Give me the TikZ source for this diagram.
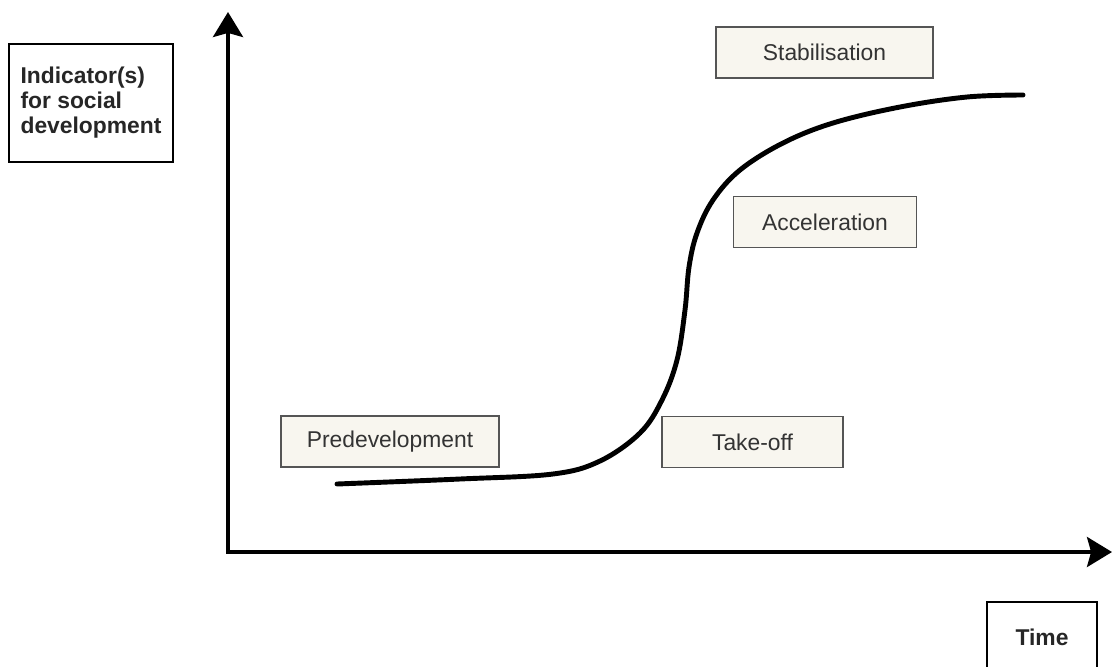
\documentclass[tikz,border=0pt]{standalone}
\usepackage{fontspec}
\setmainfont{Liberation Sans}
\usetikzlibrary{arrows.meta,positioning}
\newcommand{\pxunit}{0.02cm}
\definecolor{phasefill}{RGB}{248,246,239}
\definecolor{phaseline}{RGB}{85,85,85}
\definecolor{phasetext}{RGB}{51,51,51}
\tikzset{
    axissty/.style={line width=2.3pt, line join=miter,
        {Stealth[length=14.2pt,width=17pt,inset=2.3pt]}-{Stealth[length=14.2pt,width=17pt,inset=2.3pt]}},
    curvesty/.style={line width=2.8pt, line cap=round},
    phasesty/.style={draw=phaseline, fill=phasefill, line width=0.85pt, rectangle, text=phasetext,
        font=\fontsize{13}{15}\selectfont, minimum height=51*\pxunit, inner sep=0pt},
    labelsty/.style={draw=black, fill=white, line width=1.1pt, rectangle, align=left, text=black!85,
        font=\fontsize{13}{14.2}\selectfont\bfseries, inner sep=0pt},
}

\begin{document}
\begin{tikzpicture}[x=\pxunit, y=-\pxunit]
  \clip (0,0) rectangle (1114,666);

  % axes
  \coordinate (O) at (228,552);
  \coordinate (ytip) at (228,12);
  \coordinate (xtip) at (1112,552);
  \draw[axissty] (ytip) -- (O) -- (xtip);

  % growth curve
  \draw[curvesty] plot[smooth, tension=0.6] coordinates {
    (337,484) (460,479) (553,474) (600,461) (640,433) (662,400) (677,360)
    (685,310) (689,267) (697,233) (713,200) (740,170) (783,143) (833,123)
    (900,107) (967,97) (1023,95)};

  % phases
  \node[phasesty, minimum width=218*\pxunit] (predev) at (390,441.5) {Predevelopment};
  \node[phasesty, minimum width=181*\pxunit] (takeoff) at (752.5,442) {Take-off};
  \node[phasesty, minimum width=183*\pxunit] (accel) at (825,222) {Acceleration};
  \node[phasesty, minimum width=217*\pxunit] (stab) at (824.5,52.5) {Stabilisation};

  % axis labels
  \node[labelsty, minimum width=164*\pxunit, minimum height=118*\pxunit] (ylabel) at (91,103)
    {Indicator(s)\\for social\\development};
  \node[labelsty, align=center, minimum width=110*\pxunit, minimum height=70*\pxunit] (xlabel) at (1042,637) {Time};
\end{tikzpicture}
\end{document}
